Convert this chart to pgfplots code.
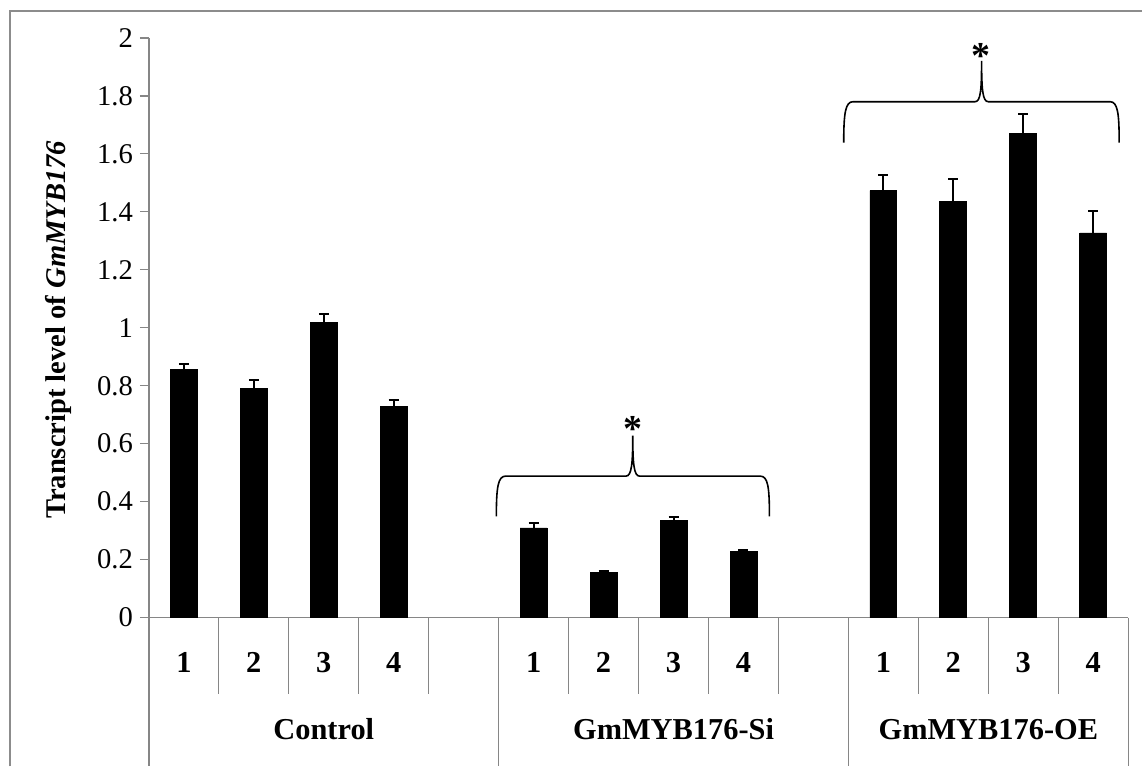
\documentclass[border=0pt]{standalone}
\usepackage{fontspec}
\setmainfont{Liberation Serif}
\usepackage{pgfplots}
\pgfplotsset{compat=1.18}
\definecolor{axgray}{RGB}{134,134,134}
\definecolor{framegray}{RGB}{140,140,140}
\pgfplotstableread{
x y e
0 0.857 0.018
1 0.791 0.029
2 1.018 0.029
3 0.729 0.023
5 0.309 0.018
6 0.156 0.004
7 0.334 0.012
8 0.229 0.005
10 1.473 0.055
11 1.436 0.079
12 1.670 0.068
13 1.327 0.076
}\datatable
\newcommand{\lblfont}{\fontsize{14.3}{17}\selectfont}
\newcommand{\catfont}{\fontsize{15.2}{18}\selectfont}
\begin{document}
\begin{tikzpicture}
\begin{axis}[
  scale only axis, width=490pt, height=290pt,
  xmin=-0.5, xmax=13.5, ymin=0, ymax=2,
  clip=false,
  axis x line=bottom, axis y line=left,
  axis line style={axgray, -, line width=0.6pt},
  ytick={0,0.2,0.4,0.6,0.8,1,1.2,1.4,1.6,1.8,2},
  yticklabels={0,0.2,0.4,0.6,0.8,1,1.2,1.4,1.6,1.8,2},
  tick align=outside, major tick length=4.5pt,
  tick style={axgray, line width=0.6pt},
  xtick={0,1,2,3,4,5,6,7,8,9,10,11,12,13},
  xticklabels={1,2,3,4,,1,2,3,4,,1,2,3,4},
  x tick style={draw=none},
  xticklabel style={font=\bfseries\catfont, anchor=center, yshift=-18pt},
  yticklabel style={font=\lblfont},
  /pgf/number format/assume math mode=true,
]
\addplot[ybar, bar width=13.5pt, fill=black, draw=black,
  error bars/.cd, y dir=plus, y explicit,
  error bar style={line width=1pt, black},
  error mark options={rotate=90, line width=1pt, mark size=2.5pt, black}]
  table[x=x, y=y, y error=e] {\datatable};
% category separators
\pgfplotsinvokeforeach{0.5,1.5,2.5,3.5,5.5,6.5,7.5,8.5,10.5,11.5,12.5}{
  \draw[axgray, line width=0.6pt] (axis cs:#1,0) -- ([yshift=-38.5pt]axis cs:#1,0);
}
\pgfplotsinvokeforeach{-0.5,4.5,9.5,13.5}{
  \draw[axgray, line width=0.6pt] (axis cs:#1,0) -- ([yshift=-74.5pt]axis cs:#1,0);
}
% group labels
\node[font=\bfseries\catfont] at ([yshift=-56pt]axis cs:2,0) {Control};
\node[font=\bfseries\catfont] at ([yshift=-56pt]axis cs:7,0) {GmMYB176-Si};
\node[font=\bfseries\catfont] at ([yshift=-56pt]axis cs:11.5,0) {GmMYB176-OE};
% y label
\node[rotate=90, font=\bfseries\lblfont] at (axis cs:-1.80,0.993) {Transcript level of \textit{GmMYB176}};
% braces
\draw[black, line width=0.8pt] (axis cs:4.467,0.349) .. controls (axis cs:4.467,0.45) and (axis cs:4.49,0.488) .. (axis cs:4.6,0.488)
  -- (axis cs:6.32,0.488) .. controls (axis cs:6.40,0.488) and (axis cs:6.417,0.53) .. (axis cs:6.417,0.628)
  .. controls (axis cs:6.417,0.53) and (axis cs:6.434,0.488) .. (axis cs:6.514,0.488)
  -- (axis cs:8.24,0.488) .. controls (axis cs:8.35,0.488) and (axis cs:8.371,0.45) .. (axis cs:8.371,0.349);
\draw[black, line width=0.8pt] (axis cs:9.433,1.639) .. controls (axis cs:9.433,1.74) and (axis cs:9.456,1.780) .. (axis cs:9.566,1.780)
  -- (axis cs:11.31,1.780) .. controls (axis cs:11.39,1.780) and (axis cs:11.404,1.82) .. (axis cs:11.404,1.921)
  .. controls (axis cs:11.404,1.82) and (axis cs:11.42,1.780) .. (axis cs:11.50,1.780)
  -- (axis cs:13.24,1.780) .. controls (axis cs:13.35,1.780) and (axis cs:13.371,1.74) .. (axis cs:13.371,1.639);
% asterisks
\node[font=\bfseries\fontsize{19}{22}\selectfont, anchor=base, yshift=-9.5pt] at (axis cs:6.414,0.672) {*};
\node[font=\bfseries\fontsize{19}{22}\selectfont, anchor=base, yshift=-9.5pt] at (axis cs:11.40,1.959) {*};
% frame
\draw[framegray, line width=0.8pt] (axis cs:-2.486,-0.514) -- (axis cs:-2.486,2.093) -- (axis cs:13.7,2.093);
\path (axis cs:-2.629,-0.514) rectangle (axis cs:13.7,2.131);
\end{axis}
\end{tikzpicture}
\end{document}
